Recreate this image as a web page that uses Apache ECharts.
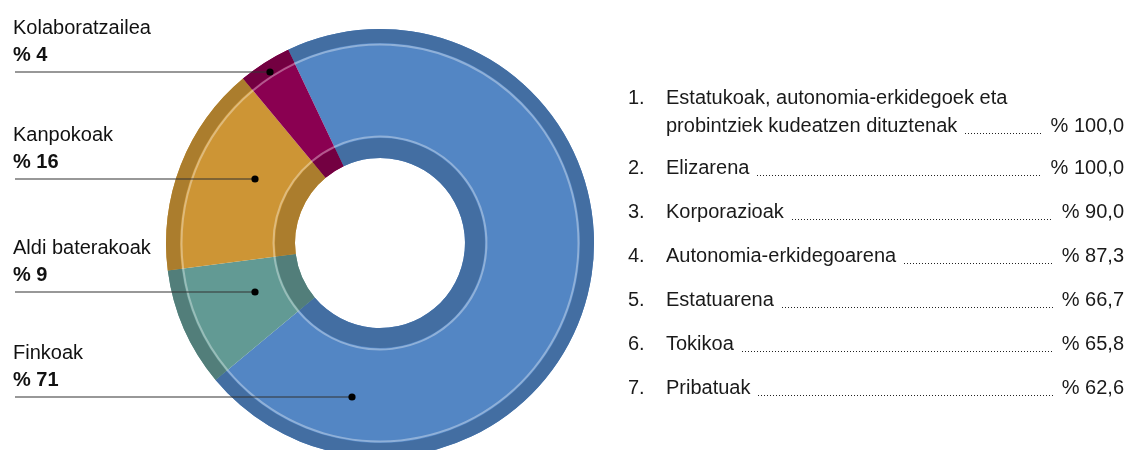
<!DOCTYPE html>
<html>
<head>
<meta charset="utf-8">
<script src="https://cdn.jsdelivr.net/npm/echarts@6/dist/echarts.min.js"></script>
<style>
html, body { margin: 0; padding: 0; background: #fff; }
#chart { width: 1128px; height: 450px; }
</style>
</head>
<body>
<div id="chart"></div>
<script>
// kontratu motak (%)
var names = ["Finkoak", "Aldi baterakoak", "Kanpokoak", "Kolaboratzailea"];
var shares = [71, 9, 16, 4];
var baseColors = ["#5386c4", "#629a94", "#cd9535", "#8a0051"];
var darkColors = ["#436ea2", "#527e7a", "#ab7d2d", "#730041"];

// eskuineko zerrenda
var listNames = [
  ["Estatukoak, autonomia-erkidegoek eta", "probintziek kudeatzen dituztenak"],
  ["Elizarena"],
  ["Korporazioak"],
  ["Autonomia-erkidegoarena"],
  ["Estatuarena"],
  ["Tokikoa"],
  ["Pribatuak"]
];
var listValues = [100.0, 100.0, 90.0, 87.3, 66.7, 65.8, 62.6];

// kokapenak
var cx = 380, cy = 243;
var calloutLineY = [397, 292, 179, 72];
var calloutDotX = [352, 255, 255, 270];
var rowY = [126, 168, 212, 256, 300, 344, 388];

var FONT = '"Liberation Sans", Arial, sans-serif';
var fs = 20;

function ring(r0, r1, colors, z) {
  return {
    type: "pie",
    silent: true,
    z: z,
    center: [cx, cy],
    radius: [r0, r1],
    startAngle: 115.4,
    clockwise: true,
    label: { show: false },
    labelLine: { show: false },
    emphasis: { disabled: true },
    itemStyle: { borderWidth: 0 },
    data: names.map(function (n, i) {
      return { name: n, value: shares[i], itemStyle: { color: typeof colors == "string" ? colors : colors[i] } };
    })
  };
}

// testu zabalerak neurtzeko
var ctx = document.createElement("canvas").getContext("2d");
ctx.font = fs + "px " + FONT;

var graphics = [];
// ezkerreko etiketak
names.forEach(function (n, i) {
  var ly = calloutLineY[i];
  graphics.push({
    type: "text", z: 10,
    style: { text: n, x: 13, y: ly - 44, font: fs + "px " + FONT, fill: "#111", textVerticalAlign: "middle" }
  });
  graphics.push({
    type: "text", z: 10,
    style: { text: "% " + shares[i], x: 13, y: ly - 17, font: "bold " + fs + "px " + FONT, fill: "#111", textVerticalAlign: "middle" }
  });
  graphics.push({
    type: "line", z: 10,
    shape: { x1: 15, y1: ly, x2: calloutDotX[i], y2: ly },
    style: { stroke: "#333", lineWidth: 1.2 }
  });
  graphics.push({
    type: "circle", z: 11,
    shape: { cx: calloutDotX[i], cy: ly, r: 3.6 },
    style: { fill: "#000" }
  });
});

// eskuineko zerrenda
listNames.forEach(function (lines, i) {
  var y = rowY[i];
  var firstY = y - (lines.length - 1) * 28;
  graphics.push({
    type: "text", z: 10,
    style: { text: (i + 1) + ".", x: 628, y: firstY, font: fs + "px " + FONT, fill: "#1a1a1a", textVerticalAlign: "middle" }
  });
  lines.forEach(function (t, k) {
    graphics.push({
      type: "text", z: 10,
      style: { text: t, x: 666, y: firstY + k * 28, font: fs + "px " + FONT, fill: "#1a1a1a", textVerticalAlign: "middle" }
    });
  });
  var valText = "% " + listValues[i].toFixed(1).replace(".", ",");
  graphics.push({
    type: "text", z: 10,
    style: { text: valText, x: 1124, y: y, font: fs + "px " + FONT, fill: "#1a1a1a", textAlign: "right", textVerticalAlign: "middle" }
  });
  // puntuzko lerroa
  var startX = Math.round(666 + ctx.measureText(lines[lines.length - 1]).width + 8);
  var endX = Math.round(1124 - ctx.measureText(valText).width - 9);
  graphics.push({
    type: "line", z: 10,
    shape: { x1: startX, y1: y + 7.5, x2: endX, y2: y + 7.5 },
    style: { stroke: "#222", lineWidth: 1, lineDash: [1, 2] }
  });
});

var myChart = echarts.init(document.getElementById("chart"));
myChart.setOption({
  animation: false,
  backgroundColor: "#fff",
  series: [
    ring(85, 214, baseColors, 1),
    ring(200, 214, darkColors, 2),
    ring(85, 105, darkColors, 2),
    ring(197.5, 199.5, "rgba(255,255,255,0.35)", 3),
    ring(105.5, 107.5, "rgba(255,255,255,0.35)", 3)
  ],
  graphic: graphics
});
</script>
</body>
</html>
